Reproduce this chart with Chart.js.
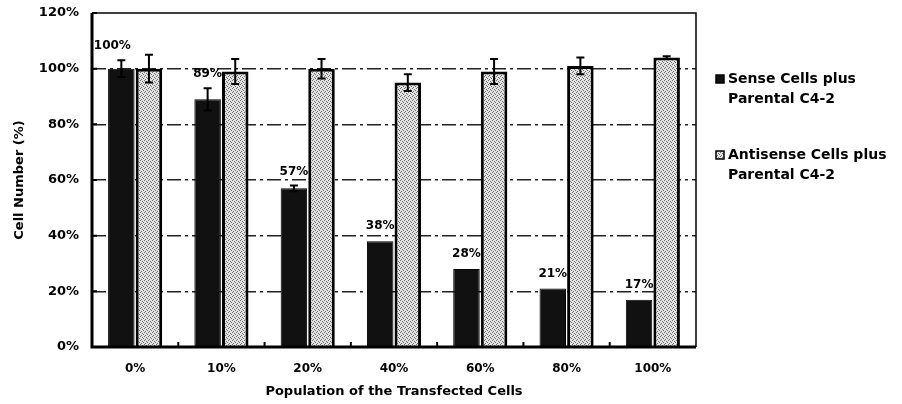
<!DOCTYPE html>
<html>
<head>
<meta charset="utf-8">
<script src="https://cdn.jsdelivr.net/npm/chart.js@4/dist/chart.umd.min.js"></script>
<style>
  html, body { margin: 0; padding: 0; background: #fff; }
  #wrap { width: 902px; height: 404px; position: relative; }
</style>
</head>
<body>
<div id="wrap"><canvas id="grafico" width="902" height="404"></canvas></div>
<script>
// Datos del gráfico
const categorias = ['0%', '10%', '20%', '40%', '60%', '80%', '100%'];
const senseValores = [100, 89, 57, 38, 28, 21, 17];
const senseErrores = [3, 4, 1, 0, 0, 0, 0];
const antisenseValores = [100, 99, 100, 95, 99, 101, 104];
const antisenseErrores = [5, 4.5, 3.5, 3, 4.5, 3, 0.5];
const ticksY = [0, 20, 40, 60, 80, 100, 120];
const nombresSeries = [
    ['Sense Cells plus', 'Parental C4-2'],
    ['Antisense Cells plus', 'Parental C4-2']
];

const fuente = "'DejaVu Sans', 'Liberation Sans', Arial, sans-serif";

// Textura punteada para las barras claras
function crearTrama() {
    const c = document.createElement('canvas');
    c.width = 4; c.height = 4;
    const g = c.getContext('2d');
    g.fillStyle = '#e2e2e2';
    g.fillRect(0, 0, 4, 4);
    g.fillStyle = '#707070';
    [[0, 0], [2, 1], [1, 3], [3, 2]].forEach(p => g.fillRect(p[0], p[1], 1, 1));
    return g.createPattern(c, 'repeat');
}

const ctx = document.getElementById('grafico').getContext('2d');
const trama = crearTrama();

// Barras de error, marco y pequeñas marcas de eje
const pluginExtras = {
    id: 'extras',
    afterDatasetsDraw(chart) {
        const c = chart.ctx;
        const y = chart.scales.y;
        const errores = [senseErrores, antisenseErrores];
        c.save();
        c.strokeStyle = '#000';
        c.lineWidth = 2;
        chart.data.datasets.forEach((ds, i) => {
            const meta = chart.getDatasetMeta(i);
            meta.data.forEach((bar, j) => {
                const e = errores[i][j];
                if (!e) return;
                const v = ds.data[j];
                const yTop = y.getPixelForValue(v + e);
                const yBot = y.getPixelForValue(v - e);
                c.beginPath();
                c.moveTo(bar.x, yTop);
                c.lineTo(bar.x, yBot);
                c.moveTo(bar.x - 4, yTop);
                c.lineTo(bar.x + 4, yTop);
                c.moveTo(bar.x - 4, yBot);
                c.lineTo(bar.x + 4, yBot);
                c.stroke();
            });
        });

        // Etiquetas de porcentaje sobre las barras oscuras
        c.fillStyle = '#000';
        c.font = 'bold 12px ' + fuente;
        c.textAlign = 'center';
        c.textBaseline = 'alphabetic';
        const meta0 = chart.getDatasetMeta(0);
        meta0.data.forEach((bar, j) => {
            const v = senseValores[j];
            const tope = Math.min(y.getPixelForValue(v) - 12, y.getPixelForValue(v + senseErrores[j]) - 11);
            c.fillText(v + '%', bar.x - (j === 0 ? 9 : 0), tope);
        });

        // Marco del área de trazado: fino arriba y a la derecha, grueso en los ejes
        const a = chart.chartArea;
        c.lineWidth = 1.5;
        c.beginPath();
        c.moveTo(a.left, a.top);
        c.lineTo(a.right, a.top);
        c.lineTo(a.right, a.bottom);
        c.stroke();
        c.lineWidth = 3;
        c.beginPath();
        c.moveTo(a.left, a.top);
        c.lineTo(a.left, a.bottom);
        c.lineTo(a.right, a.bottom);
        c.stroke();

        // Marcas hacia dentro del eje Y
        c.lineWidth = 2;
        c.beginPath();
        ticksY.forEach(t => {
            const py = y.getPixelForValue(t);
            c.moveTo(a.left, py);
            c.lineTo(a.left + 5, py);
        });
        // Marcas entre categorías en el eje X
        const x = chart.scales.x;
        for (let k = 1; k < categorias.length; k++) {
            const px = (x.getPixelForValue(k - 1) + x.getPixelForValue(k)) / 2;
            c.moveTo(px, a.bottom);
            c.lineTo(px, a.bottom - 5);
        }
        c.stroke();
        c.restore();
    }
};

// Leyenda a la derecha
const pluginLeyenda = {
    id: 'leyenda',
    afterDraw(chart) {
        const c = chart.ctx;
        const posiciones = [79, 155];
        c.save();
        c.font = 'bold 14px ' + fuente;
        c.textAlign = 'left';
        c.textBaseline = 'middle';
        nombresSeries.forEach((lineas, i) => {
            const py = posiciones[i];
            c.fillStyle = i === 0 ? '#111' : trama;
            c.fillRect(716, py - 4, 8, 8);
            c.strokeStyle = '#000';
            c.lineWidth = 1.5;
            c.strokeRect(716, py - 4, 8, 8);
            c.fillStyle = '#000';
            lineas.forEach((t, k) => c.fillText(t, 728, py + k * 20));
        });
        c.restore();
    }
};

new Chart(ctx, {
    type: 'bar',
    data: {
        labels: categorias,
        datasets: [{
            label: nombresSeries[0].join(' '),
            data: senseValores,
            backgroundColor: '#111',
            borderColor: '#000',
            borderWidth: 1
        }, {
            label: nombresSeries[1].join(' '),
            data: antisenseValores,
            backgroundColor: trama,
            borderColor: '#000',
            borderWidth: 3
        }]
    },
    options: {
        responsive: false,
        animation: false,
        events: [],
        layout: {
            padding: { top: 13, right: 206, left: 0, bottom: 0 }
        },
        plugins: {
            legend: { display: false },
            tooltip: { enabled: false }
        },
        datasets: {
            bar: {
                categoryPercentage: 0.64,
                barPercentage: 0.96
            }
        },
        scales: {
            x: {
                grid: { display: false },
                border: { display: false },
                ticks: {
                    color: '#000',
                    padding: 7,
                    font: { family: fuente, size: 12, weight: 'bold' }
                },
                title: {
                    display: true,
                    text: 'Population of the Transfected Cells',
                    color: '#000',
                    padding: { top: 0, bottom: 5 },
                    font: { family: fuente, size: 13, weight: 'bold' }
                },
                afterFit(scale) { scale.height = 57; }
            },
            y: {
                min: 0,
                max: 120,
                afterBuildTicks(scale) {
                    scale.ticks = ticksY.map(v => ({ value: v }));
                },
                grid: {
                    drawTicks: false,
                    color: ctx2 => (ctx2.tick && (ctx2.tick.value === 0 || ctx2.tick.value === 120)) ? 'rgba(0,0,0,0)' : '#222',
                    lineWidth: 1.5
                },
                border: { display: false, dash: [14, 4, 3, 4] },
                ticks: {
                    color: '#000',
                    padding: 13,
                    font: { family: fuente, size: 13, weight: 'bold' },
                    callback: v => v + '%'
                },
                title: {
                    display: true,
                    text: 'Cell Number (%)',
                    color: '#000',
                    padding: { top: 12, bottom: 0 },
                    font: { family: fuente, size: 13, weight: 'bold' }
                },
                afterFit(scale) {
                    scale.width = 92;
                    scale.paddingTop = 0;
                    scale.paddingBottom = 0;
                }
            }
        }
    },
    plugins: [pluginExtras, pluginLeyenda]
});
</script>
</body>
</html>
